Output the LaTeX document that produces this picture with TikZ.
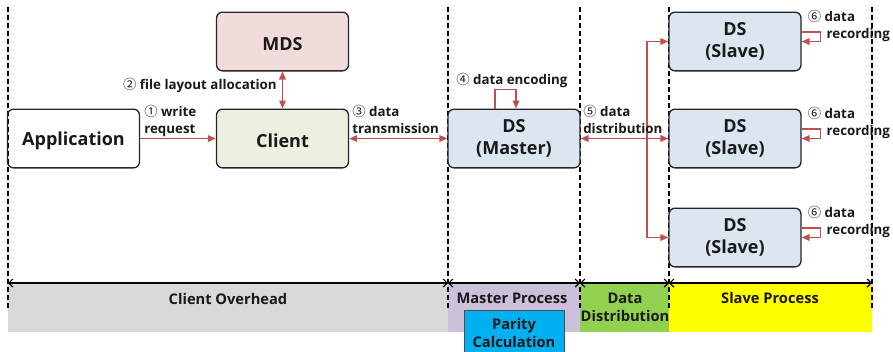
\documentclass[tikz,border=0pt]{standalone}
\usepackage{fontspec}
\setmainfont{Open Sans}
\newfontfamily\cjk{Noto Sans CJK KR}
\usetikzlibrary{arrows.meta,positioning}

\definecolor{flowred}{RGB}{192,80,77}
\definecolor{mdsfill}{RGB}{242,220,219}
\definecolor{clientfill}{RGB}{235,241,222}
\definecolor{dsfill}{RGB}{220,230,241}
\definecolor{overheadgray}{RGB}{217,217,217}
\definecolor{masterpurple}{RGB}{204,192,218}
\definecolor{distgreen}{RGB}{146,208,80}
\definecolor{slaveyellow}{RGB}{255,255,0}
\definecolor{paritycyan}{RGB}{0,176,240}

% circled step numbers
\newcommand{\stepno}[1]{{\cjk\mdseries #1}}

\tikzset{
  server/.style={draw=black!85, line width=1pt, rounded corners=4.5pt,
    minimum width=99pt, minimum height=44pt, align=center, text=black!90,
    font=\bfseries\fontsize{13.5}{17}\selectfont,
    execute at begin node=\rule{0pt}{14pt}},
  flow/.style={draw=flowred, line width=1.1pt, >={Triangle[length=6pt,width=5pt]}},
  lbl/.style={inner sep=0pt, align=left, text=black!90,
    font=\bfseries\fontsize{10}{12.5}\selectfont},
  band/.style={inner sep=0pt, align=center, text=black!90,
    font=\bfseries\fontsize{11}{13.5}\selectfont},
  lane/.style={line width=1pt, dash pattern=on 3.75pt off 2.25pt},
  span/.style={line width=0.9pt, <->, >={Straight Barb[length=3pt,width=6pt]}}
}

\begin{document}
\begin{tikzpicture}[x=0.75pt, y=-0.75pt]
    \useasboundingbox (0,0) rectangle (893,351);

    % Phase bands at the bottom
    \fill[overheadgray] (8,283) rectangle (448,332);
    \fill[masterpurple] (448,283) rectangle (580,332);
    \fill[distgreen] (580,283) rectangle (669,332);
    \fill[slaveyellow] (669,283) rectangle (872,332);

    % Lane dividers and phase spans
    \foreach \x [count=\i] in {8,448,580,669,872} {
        \draw[lane] (\x,7) -- (\x,310);
        \coordinate (d\i) at (\x,283);
    }
    \foreach \a/\b in {1/2,2/3,3/4,4/5}
        \draw[span] (d\a) -- (d\b);

    \node[band] (ovh) at (228,299) {Client Overhead};
    \node[band] (mproc) at (512,298) {Master Process};
    \node[band] (ddist) at (625,307) {Data\\Distribution};
    \node[band] (sproc) at (770,298) {Slave Process};
    \node[band, draw=black!70, line width=0.6pt, fill=paritycyan,
          minimum width=75pt, minimum height=34.5pt] (parity) at (514,333) {Parity\\Calculation};

    % Components
    \node[server] (app) at (73.5,138.5) {Application};
    \node[server, fill=mdsfill] (mds) at (282.5,41.5) {MDS};
    \node[server, fill=clientfill] (client) at (282.5,138.5) {Client};
    \node[server, fill=dsfill] (master) at (514,138.5) {DS\\(Master)};
    \node[server, fill=dsfill] (slaveA) at (735,41.5) {DS\\(Slave)};
    \node[server, fill=dsfill] (slaveB) at (735,138.5) {DS\\(Slave)};
    \node[server, fill=dsfill] (slaveC) at (735,237.5) {DS\\(Slave)};

    % Write path
    \draw[flow,->] (app) -- (client);
    \draw[flow,<->] (mds) -- (client);
    \draw[flow,<->] (client) -- (master);
    \draw[flow,->] ([xshift=-14.25pt]master.north) -- ++(0,-19) -| ([xshift=1.5pt]master.north);

    % Distribution bus to the slaves
    \draw[flow,<->] (master) -- (slaveB);
    \coordinate (bus) at (647,138.5);
    \draw[flow,->] (bus) |- (slaveA.west);
    \draw[flow,->] (bus) |- (slaveC.west);
    \foreach \s in {slaveA,slaveB,slaveC} {
        \draw[flow,->] ([yshift=7pt]\s.east) -- ++(19,0) |- (\s.east);
        \node[lbl, anchor=north west] (rec\s) at ([xshift=4.5pt,yshift=1pt]\s.north east)
            {\stepno{⑥} data\\\hspace*{14pt}recording};
    }

    % Step labels
    \node[lbl, anchor=north west] (reqlbl) at (144,105) {\stepno{①} write\\request};
    \node[lbl, anchor=east] (alloclbl) at (277,85) {\stepno{②} file layout allocation};
    \node[lbl, anchor=north west] (translbl) at (352,105) {\stepno{③} data\\transmission};
    \node[lbl, anchor=west] (enclbl) at (456,80) {\stepno{④} data encoding};
    \node[lbl, anchor=north west] (distlbl) at (583,105) {\stepno{⑤} data\\distribution};
\end{tikzpicture}
\end{document}
